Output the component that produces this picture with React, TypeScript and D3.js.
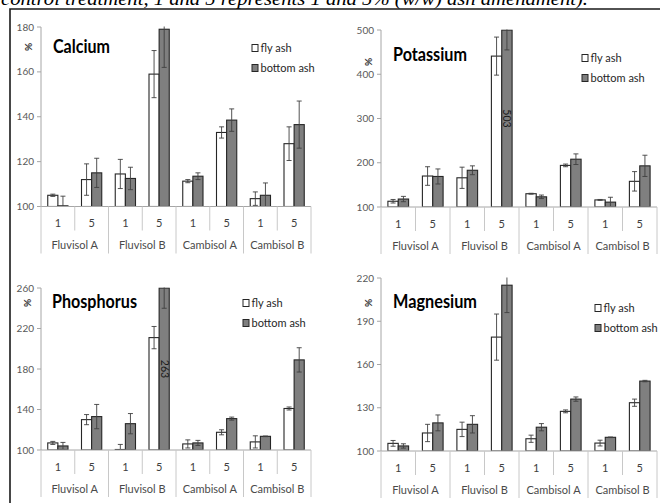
import React from "react";
import * as d3 from "d3";

const groups = ["Fluvisol A", "Fluvisol B", "Cambisol A", "Cambisol B"];
const doses = ["1", "5"];
const seriesNames = ["fly ash", "bottom ash"];

const calciumFly = [105.0, 112.0, 114.5, 159.0, 111.3, 133.0, 103.5, 128.0];
const calciumFlyErr = [0.5, 7.0, 6.5, 10.5, 0.7, 2.5, 3.0, 7.5];
const calciumBottom = [100.3, 115.0, 112.5, 179.0, 113.5, 138.5, 105.0, 136.5];
const calciumBottomErr = [4.3, 6.5, 5.0, 17.0, 1.5, 5.0, 5.5, 10.5];
const calciumTicks = [100, 120, 140, 160, 180];

const potassiumFly = [113, 170, 166, 441, 130, 194, 116, 158];
const potassiumFlyErr = [4, 21, 24, 43, 1, 3, 1, 22];
const potassiumBottom = [118, 169, 183, 503, 123, 208, 111, 193];
const potassiumBottomErr = [6, 17, 10, 48, 4, 12, 11, 24];
const potassiumTicks = [100, 200, 300, 400, 500];

const phosphorusFly = [107, 130, 100.5, 211, 106, 117.5, 108, 141];
const phosphorusFlyErr = [1.5, 5, 5, 11, 4, 2.5, 6, 1.5];
const phosphorusBottom = [104, 133, 126, 263, 107, 131, 113.5, 189];
const phosphorusBottomErr = [3.5, 12, 10, 23, 2.5, 1.5, 0.3, 12];
const phosphorusTicks = [100, 140, 180, 220, 260];

const magnesiumFly = [105.3, 112.5, 115, 179, 108.5, 127.5, 105.5, 133.5];
const magnesiumFlyErr = [2, 6, 5, 16, 2.5, 1, 2, 2.5];
const magnesiumBottom = [103.5, 119.5, 118.5, 215, 116.5, 136, 109.5, 148.5];
const magnesiumBottomErr = [1.5, 5.5, 6, 19, 2.5, 1.5, 0.2, 0.5];
const magnesiumTicks = [100, 130, 160, 190, 220];

const caption = "control treatment, 1 and 5 represents 1 and 5% (w/w) ash amendment).";

const panels = [
  { title: "Calcium", fly: calciumFly, flyErr: calciumFlyErr, bottom: calciumBottom, bottomErr: calciumBottomErr, ticks: calciumTicks,
    x0: 41, x1: 311, yTop: 27, yBase: 206.5, titleX: 53, titleY: 53, titleW: 57, legX: 252, legY: 48, pctX: 28, pctY: 47 },
  { title: "Potassium", fly: potassiumFly, flyErr: potassiumFlyErr, bottom: potassiumBottom, bottomErr: potassiumBottomErr, ticks: potassiumTicks,
    x0: 381, x1: 657, yTop: 30, yBase: 207, titleX: 393, titleY: 61, titleW: 74, legX: 582, legY: 58, pctX: 368, pctY: 62 },
  { title: "Phosphorus", fly: phosphorusFly, flyErr: phosphorusFlyErr, bottom: phosphorusBottom, bottomErr: phosphorusBottomErr, ticks: phosphorusTicks,
    x0: 41, x1: 311, yTop: 288, yBase: 450, titleX: 52, titleY: 308, titleW: 85, legX: 243, legY: 303, pctX: 27, pctY: 303 },
  { title: "Magnesium", fly: magnesiumFly, flyErr: magnesiumFlyErr, bottom: magnesiumBottom, bottomErr: magnesiumBottomErr, ticks: magnesiumTicks,
    x0: 381, x1: 657, yTop: 278, yBase: 451, titleX: 393, titleY: 308, titleW: 84, legX: 595, legY: 308, pctX: 368, pctY: 303 },
];

const FONT = "Lato, 'Open Sans', sans-serif";

function Panel({ p, idx }: { p: any; idx: number }) {
  const cats = d3.range(groups.length * doses.length);
  const x = d3.scaleBand<number>().domain(cats).range([p.x0, p.x1]).padding(0);
  const dom = [p.ticks[0], p.ticks[p.ticks.length - 1]];
  const y = d3.scaleLinear().domain(dom).range([p.yBase, p.yTop]);
  const bw = x.bandwidth();
  const barW = bw * 0.3;
  const off = bw * 0.2;
  const clipId = `clip${idx}`;
  const seriesVals = [
    { v: p.fly, e: p.flyErr, fill: "#ffffff" },
    { v: p.bottom, e: p.bottomErr, fill: "#7f7f7f" },
  ];
  const capW = 5;
  return (
    <g>
      <defs>
        <clipPath id={clipId}>
          <rect x={p.x0} y={p.yTop - 0.5} width={p.x1 - p.x0} height={p.yBase - p.yTop + 0.5} />
        </clipPath>
      </defs>
      <line x1={p.x0} x2={p.x0} y1={p.yTop} y2={p.yBase} stroke="#a6a6a6" strokeWidth={1} />
      {p.ticks.map((t: number) => (
        <g key={t}>
          <line x1={p.x0 - 4} x2={p.x0} y1={y(t)} y2={y(t)} stroke="#a6a6a6" />
          <text x={p.x0 - 7} y={y(t) + 3.5} fontSize={10} fill="#595959" textAnchor="end" fontFamily={FONT}>{t}</text>
        </g>
      ))}
      <text x={p.pctX} y={p.pctY} fontSize={10} fill="#333" textAnchor="middle" fontFamily={FONT} fontWeight="bold"
        transform={`rotate(-90 ${p.pctX} ${p.pctY})`} dy="0.35em">%</text>
      <g clipPath={`url(#${clipId})`}>
        {cats.map((i) =>
          seriesVals.map((s, si) => {
            const bx = (x(i) as number) + off + si * barW;
            const top = y(Math.min(s.v[i], dom[1]));
            return (
              <rect key={`${i}-${si}`} x={bx} y={top} width={barW} height={Math.max(0, p.yBase - top)}
                fill={s.fill} stroke="#262626" strokeWidth={1.1} />
            );
          })
        )}
        {cats.map((i) =>
          seriesVals.map((s, si) => {
            const cx = (x(i) as number) + off + si * barW + barW / 2;
            const hi = y(s.v[i] + s.e[i]);
            const lo = y(s.v[i] - s.e[i]);
            return (
              <g key={`e${i}-${si}`} stroke="#404040" strokeWidth={0.9}>
                <line x1={cx} x2={cx} y1={hi} y2={lo} />
                <line x1={cx - capW / 2} x2={cx + capW / 2} y1={hi} y2={hi} />
                <line x1={cx - capW / 2} x2={cx + capW / 2} y1={lo} y2={lo} />
              </g>
            );
          })
        )}
      </g>
      {cats.map((i) => {
        if (p.bottom[i] <= dom[1]) return null;
        const cx = (x(i) as number) + off + barW + barW / 2;
        const cy = y((dom[0] + dom[1]) / 2);
        return (
          <text key={`l${i}`} x={cx} y={cy} fontSize={10.5} fill="#1a1a1a" textAnchor="middle" dy="0.35em"
            fontFamily={FONT} transform={`rotate(90 ${cx} ${cy})`}>{p.bottom[i]}</text>
        );
      })}
      <line x1={p.x0} x2={p.x1} y1={p.yBase} y2={p.yBase} stroke="#a6a6a6" />
      {d3.range(cats.length + 1).map((k) => {
        const xx = k < cats.length ? (x(k) as number) : p.x1;
        const len = k % 2 === 0 ? 47 : 24;
        return <line key={`s${k}`} x1={xx} x2={xx} y1={p.yBase} y2={p.yBase + len} stroke="#c8c8c8" />;
      })}
      {cats.map((i) => (
        <text key={`d${i}`} x={(x(i) as number) + bw / 2} y={p.yBase + 20.5} fontSize={11} fill="#404040"
          textAnchor="middle" fontFamily={FONT}>{doses[i % 2]}</text>
      ))}
      {groups.map((g, gi) => (
        <text key={g} x={(x(gi * 2) as number) + bw} y={p.yBase + 42.5} fontSize={11} fill="#4a4a4a"
          textAnchor="middle" fontFamily={FONT}>{g}</text>
      ))}
      <text x={p.titleX} y={p.titleY} fontSize={19} fontWeight="bold" fill="#000" fontFamily={FONT}
        textLength={p.titleW} lengthAdjust="spacingAndGlyphs">{p.title}</text>
      {seriesNames.map((n, si) => (
        <g key={n}>
          <rect x={p.legX} y={p.legY + si * 20 - 3.5} width={6} height={7} fill={seriesVals[si].fill} stroke="#262626" strokeWidth={1} />
          <text x={p.legX + 8.5} y={p.legY + si * 20 + 3.8} fontSize={11} fill="#262626" fontFamily={FONT}>{n}</text>
        </g>
      ))}
    </g>
  );
}

export default function App() {
  return (
    <svg width={660} height={503} style={{ position: "absolute", left: 0, top: 0, background: "#fff" }}>
      <rect x={0} y={0} width={660} height={503} fill="#fff" />
      <text x={1} y={4.5} fontSize={19} fontStyle="italic" fill="#000" fontFamily="'Liberation Serif', serif"
        textLength={587} lengthAdjust="spacingAndGlyphs">{caption}</text>
      <path d="M10,503 L10,9 L660,9" fill="none" stroke="#1a1a1a" strokeWidth={1.6} />
      {panels.map((p, i) => (
        <Panel key={p.title} p={p} idx={i} />
      ))}
    </svg>
  );
}
